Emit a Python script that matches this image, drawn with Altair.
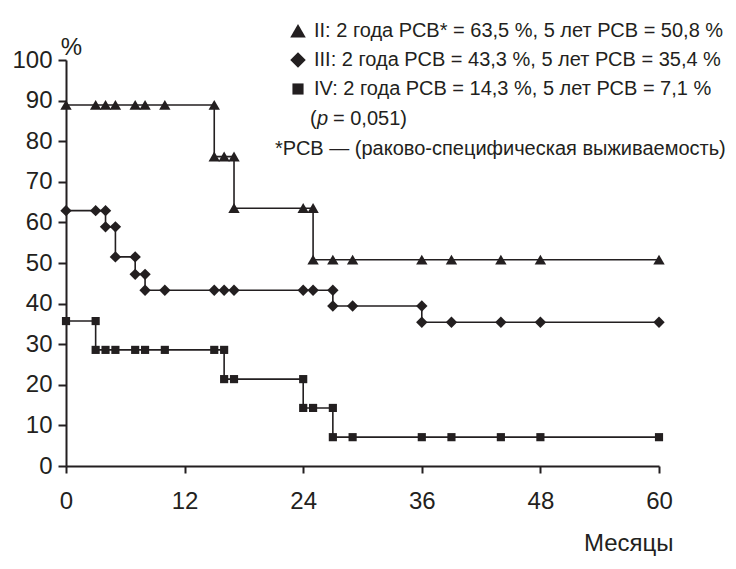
import altair as alt
import pandas as pd

INK = "#231f20"
FONT = "Liberation Sans, Arial, sans-serif"

labels = [
    "II: 2 года РСВ* = 63,5 %, 5 лет РСВ = 50,8 %",
    "III: 2 года РСВ = 43,3 %, 5 лет РСВ = 35,4 %",
    "IV: 2 года РСВ = 14,3 %, 5 лет РСВ = 7,1 %",
]

# Stage II (triangles)
ii_t = [0, 3, 4, 5, 7, 8, 10, 15, 15, 16, 17, 17, 24, 25, 25, 27, 29, 36, 39, 44, 48, 60]
ii_v = [88.9, 88.9, 88.9, 88.9, 88.9, 88.9, 88.9, 88.9, 76.2, 76.2, 76.2, 63.5, 63.5, 63.5,
        50.8, 50.8, 50.8, 50.8, 50.8, 50.8, 50.8, 50.8]

# Stage III (diamonds)
iii_t = [0, 3, 4, 4, 5, 5, 7, 7, 8, 8, 10, 15, 16, 17, 24, 25, 27, 27, 29, 36, 36, 39, 44, 48, 60]
iii_v = [62.9, 62.9, 62.9, 58.9, 58.9, 51.5, 51.5, 47.2, 47.2, 43.3, 43.3, 43.3, 43.3, 43.3,
         43.3, 43.3, 43.3, 39.4, 39.4, 39.4, 35.4, 35.4, 35.4, 35.4, 35.4]

# Stage IV (squares)
iv_t = [0, 3, 3, 4, 5, 7, 8, 10, 15, 16, 16, 17, 24, 24, 25, 27, 27, 29, 36, 39, 44, 48, 60]
iv_v = [35.7, 35.7, 28.6, 28.6, 28.6, 28.6, 28.6, 28.6, 28.6, 28.6, 21.4, 21.4, 21.4, 14.3,
        14.3, 14.3, 7.1, 7.1, 7.1, 7.1, 7.1, 7.1, 7.1]

x_ticks = [0, 12, 24, 36, 48, 60]
y_ticks = [0, 10, 20, 30, 40, 50, 60, 70, 80, 90, 100]

TRI = "M0,-0.85L0.95,0.8L-0.95,0.8Z"
DIA = "M0,-0.95L0.95,0L0,0.95L-0.95,0Z"
SQR = "M-0.68,-0.68H0.68V0.68H-0.68Z"

rows = []
for lab, ts, vs in zip(labels, [ii_t, iii_t, iv_t], [ii_v, iii_v, iv_v]):
    for i, (t, v) in enumerate(zip(ts, vs)):
        rows.append({"series": lab, "t": t, "v": v, "idx": i})
df = pd.DataFrame(rows)

x_enc = alt.X("t:Q", scale=alt.Scale(domain=[0, 60], nice=False),
              axis=alt.Axis(values=x_ticks, title="Месяцы", titleX=607, titleY=84,
                            titleAlign="right", titleBaseline="alphabetic",
                            labelPadding=16, tickSize=7, labelFlush=False))
y_enc = alt.Y("v:Q", scale=alt.Scale(domain=[0, 100], nice=False),
              axis=alt.Axis(values=y_ticks, title="%", titleAngle=0, titleX=5, titleY=-6,
                            titleAlign="center", titleBaseline="alphabetic",
                            labelPadding=6, tickSize=8, labelFlush=False))

base = alt.Chart(df)
line = base.mark_line(interpolate="step-after", color=INK, strokeWidth=1.6).encode(
    x=x_enc, y=y_enc, detail="series:N", order="idx:Q")

pts = base.mark_point(filled=True, opacity=1, color=INK, size=144).encode(
    x=x_enc, y=y_enc,
    shape=alt.Shape("series:N",
                    scale=alt.Scale(domain=labels, range=[TRI, DIA, SQR]),
                    legend=alt.Legend(title=None, orient="none", legendX=222, legendY=-39)),
)

def txt(s, x, y, style="normal"):
    return alt.Chart(pd.DataFrame({"s": [s]})).mark_text(
        align="left", baseline="alphabetic", font=FONT, fontSize=20, color=INK,
        fontStyle=style).encode(text="s:N", x=alt.value(x), y=alt.value(y))

ann = [
    txt("(", 244, 65),
    txt("p", 251, 65, "italic"),
    txt("= 0,051)", 267, 65),
    txt("*РСВ — (раково-специфическая выживаемость)", 209, 95),
]

chart = alt.layer(line, pts, *ann).properties(
    width=593, height=406,
    autosize=alt.AutoSizeParams(type="none"),
    padding={"left": 58, "top": 52, "right": 68, "bottom": 90},
).configure_view(stroke=None).configure_axis(
    grid=False, domainColor=INK, domainWidth=2, tickColor=INK, tickWidth=2,
    labelFont=FONT, labelFontSize=24, labelColor=INK,
    titleFont=FONT, titleFontSize=24, titleColor=INK, titleFontWeight="normal",
).configure_legend(
    labelFont=FONT, labelFontSize=20, labelColor=INK, labelLimit=1000,
    symbolSize=268, symbolFillColor=INK, symbolStrokeColor=INK, symbolStrokeWidth=0,
    symbolOpacity=1, rowPadding=9, labelOffset=6, padding=0,
)

chart.save("out.html", embed_options={"renderer": "svg", "actions": False})
